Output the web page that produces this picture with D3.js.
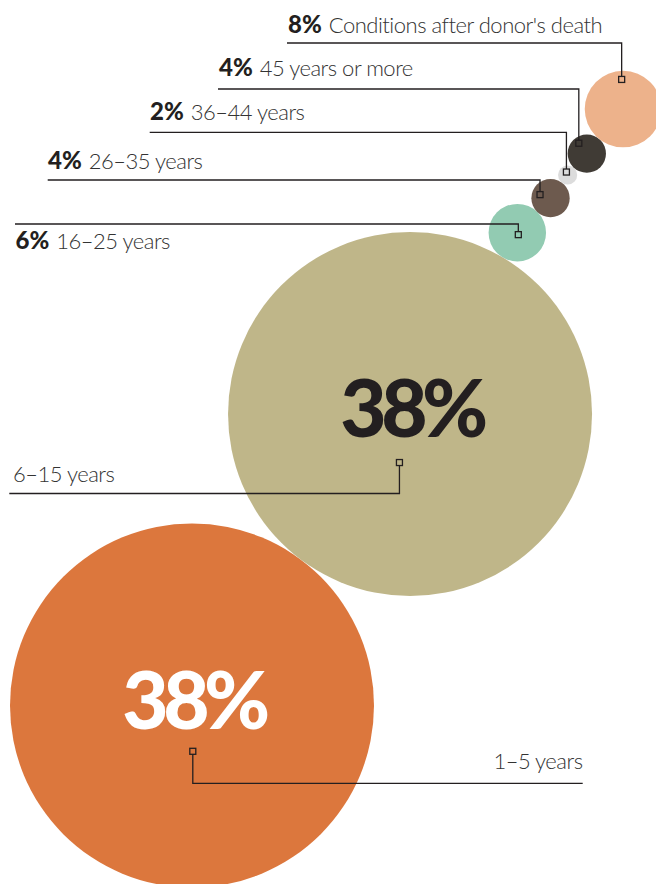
<!DOCTYPE html>
<html>
<head>
<meta charset="utf-8">
<script src="https://cdn.jsdelivr.net/npm/d3@7"></script>
<style>
  html, body { margin: 0; padding: 0; background: #ffffff; }
  svg { display: block; }
</style>
</head>
<body>
<svg id="chart" width="656" height="884"></svg>
<script>
// ---- data ----
const categories = ["1–5 years", "6–15 years", "16–25 years", "26–35 years", "36–44 years", "45 years or more", "Conditions after donor's death"];
const values = [38, 38, 6, 4, 2, 4, 8];

// ---- styles ----
const colors = ["#DC773D", "#BFB689", "#92CBB2", "#6D5A4E", "#DCDCDC", "#403B35", "#EDB28B"];
const innerTextColors = ["#FFFFFF", "#231F20", null, null, null, null, null];

// ---- layout ----
const origin = [192, 705.5];                          // centre of the first bubble
const chainAngles = [-53.2, -59.4, -46.1, -53.5, -48.1, -50.9]; // direction to next tangent bubble
const anchorOffsets = [[0.8, 45.8], [-10.6, 48.5], [1, 2], [-10.5, -3.5], [-1.2, -3], [-8, -10.4], [-1.4, -29.6]];
const labelLayout = [
  { lineY: 783.3, lineX: 582.7, textX: 582.5, textY: 769, anchor: "end" },
  { lineY: 493.5, lineX: 9.3, textX: 13, textY: 482, anchor: "start" },
  { lineY: 224, lineX: 15, textX: 15.5, textY: 249, anchor: "start" },
  { lineY: 180, lineX: 47.7, textX: 48, textY: 169, anchor: "start" },
  { lineY: 132.3, lineX: 149.7, textX: 150, textY: 120, anchor: "start" },
  { lineY: 89, lineX: 218, textX: 219, textY: 76, anchor: "start" },
  { lineY: 43, lineX: 287, textX: 288, textY: 33, anchor: "start" }
];

const svg = d3.select("#chart");
const r = d3.scaleLinear().domain([0, 38]).range([0, 182]);

// chain of tangent bubbles
const nodes = [];
values.forEach((v, i) => {
  let cx, cy;
  if (i === 0) { [cx, cy] = origin; }
  else {
    const p = nodes[i - 1];
    const a = chainAngles[i - 1] * Math.PI / 180;
    const d = r(values[i - 1]) + r(v);
    cx = p.cx + d * Math.cos(a);
    cy = p.cy + d * Math.sin(a);
  }
  nodes.push({ i, cat: categories[i], value: v, cx, cy, rad: r(v) });
});

svg.append("g").selectAll("circle").data(nodes).join("circle")
  .attr("cx", d => d.cx).attr("cy", d => d.cy).attr("r", d => d.rad)
  .attr("fill", d => colors[d.i]);

// big percentages inside large bubbles
svg.append("g").selectAll("text").data(nodes.filter(d => innerTextColors[d.i])).join("text")
  .attr("x", d => d.cx + 1.5).attr("y", d => d.cy + 23)
  .attr("text-anchor", "middle")
  .attr("font-family", "Lato, 'Open Sans', sans-serif")
  .attr("font-weight", 900)
  .attr("font-size", 80)
  .attr("letter-spacing", -5.5)
  .attr("fill", d => innerTextColors[d.i])
  .text(d => d3.format("d")(d.value) + "%");

// leader lines
const lines = svg.append("g");
nodes.forEach(d => {
  const ax = d.cx + anchorOffsets[d.i][0];
  const ay = d.cy + anchorOffsets[d.i][1];
  const L = labelLayout[d.i];
  const sy = L.lineY < ay ? ay - 3 : ay + 3;
  lines.append("path")
    .attr("d", `M${ax},${sy}V${L.lineY}H${L.lineX}`)
    .attr("fill", "none").attr("stroke", "#231F20").attr("stroke-width", 1.3);
  lines.append("rect")
    .attr("x", ax - 3).attr("y", ay - 3).attr("width", 6).attr("height", 6)
    .attr("fill", "none").attr("stroke", "#231F20").attr("stroke-width", 1.3);
});

// labels
const labels = svg.append("g");
nodes.forEach(d => {
  const L = labelLayout[d.i];
  const t = labels.append("text")
    .attr("x", L.textX).attr("y", L.textY)
    .attr("text-anchor", L.anchor)
    .attr("font-family", "Lato, 'Open Sans', sans-serif")
    .attr("font-size", 22)
    .attr("fill", "#231F20");
  if (!innerTextColors[d.i]) {
    t.append("tspan").attr("font-weight", 900).attr("font-size", 24).text(d.value + "%");
    t.append("tspan").attr("font-weight", 300).attr("dx", 7).attr("letter-spacing", -0.5).attr("fill", "#333").text(d.cat);
  } else {
    t.append("tspan").attr("font-weight", 300).attr("letter-spacing", -0.5).attr("fill", "#333").text(d.cat);
  }
});
</script>
</body>
</html>
